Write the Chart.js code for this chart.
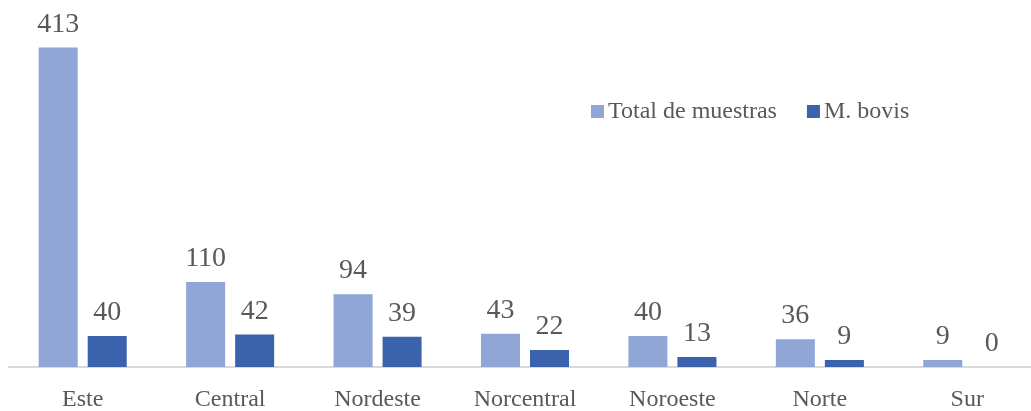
<!DOCTYPE html>
<html>
<head>
<meta charset="utf-8">
<script src="https://cdn.jsdelivr.net/npm/chart.js@4"></script>
<style>
  html, body { margin: 0; padding: 0; background: #fff; overflow: hidden; }
  #wrap { position: relative; width: 1031px; height: 411px; overflow: hidden; }
</style>
</head>
<body>
<div id="wrap"><canvas id="regionChart" width="1041" height="433"></canvas></div>
<script>
const regions = ["Este", "Central", "Nordeste", "Norcentral", "Noroeste", "Norte", "Sur"];
const totalSamples = [413, 110, 94, 43, 40, 36, 9];
const bovisCases = [40, 42, 39, 22, 13, 9, 0];
const seriesNames = ["Total de muestras", "M. bovis"];

const textGray = "#595959";
const serif = "'Liberation Serif', 'Times New Roman', serif";

// value labels above each bar
const barLabels = {
    id: "barLabels",
    afterDatasetsDraw(chart) {
        const ctx = chart.ctx;
        ctx.save();
        ctx.font = "28px " + serif;
        ctx.fillStyle = textGray;
        ctx.textAlign = "center";
        ctx.textBaseline = "alphabetic";
        chart.data.datasets.forEach((ds, i) => {
            chart.getDatasetMeta(i).data.forEach((bar, j) => {
                ctx.fillText(ds.data[j], bar.x, bar.y - 16);
            });
        });
        ctx.restore();
    }
};

// legend drawn inside the plot area
const innerLegend = {
    id: "innerLegend",
    afterDraw(chart) {
        const ctx = chart.ctx;
        ctx.save();
        ctx.font = "24px " + serif;
        ctx.textBaseline = "middle";
        let x = 591;
        const y = 111;
        chart.data.datasets.forEach(ds => {
            ctx.fillStyle = ds.backgroundColor;
            ctx.fillRect(x, y - 6, 13, 13);
            ctx.fillStyle = textGray;
            ctx.fillText(ds.label, x + 17, y + 1);
            x += 17 + ctx.measureText(ds.label).width + 30;
        });
        ctx.restore();
    }
};

new Chart(document.getElementById("regionChart"), {
    type: "bar",
    data: {
        labels: regions,
        datasets: [
            { label: seriesNames[0], data: totalSamples, backgroundColor: "#8FA6D7" },
            { label: seriesNames[1], data: bovisCases, backgroundColor: "#3A62AD" }
        ]
    },
    options: {
        responsive: false,
        animation: false,
        devicePixelRatio: 1,
        categoryPercentage: 0.665,
        barPercentage: 0.796,
        layout: { padding: { top: 19, left: 9, right: 0, bottom: 0 } },
        plugins: { legend: { display: false }, tooltip: { enabled: false } },
        scales: {
            x: {
                grid: { display: false, drawTicks: false },
                border: { color: "#d9d9d9", width: 2 },
                ticks: {
                    color: textGray,
                    font: { family: serif, size: 24, lineHeight: 1 },
                    padding: 21,
                    maxRotation: 0,
                    autoSkip: false
                }
            },
            y: {
                display: false,
                min: 0,
                max: 450
            }
        }
    },
    plugins: [barLabels, innerLegend]
});
</script>
</body>
</html>
